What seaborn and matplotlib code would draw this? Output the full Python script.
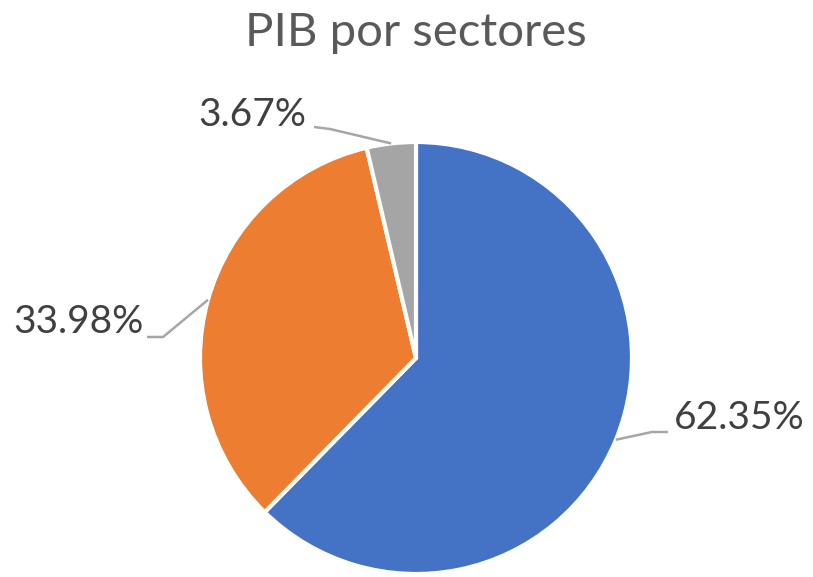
"""
PIB por sectores - gráfico de tarta
"""
import numpy as np
import matplotlib.pyplot as plt
import seaborn as sns

# datos
sectores = ["Servicios", "Industria", "Agricultura"]
porcentajes = [62.35, 33.98, 3.67]
colores = ["#4472C4", "#ED7D31", "#A5A5A5"]
titulo = "PIB por sectores"

sns.set_theme(style="white")
plt.rcParams["font.family"] = ["Lato", "DejaVu Sans"]

W, H = 813, 577
fig = plt.figure(figsize=(W / 100, H / 100), dpi=100)
ax = fig.add_axes([0, 0, 1, 1])

centro = (416, H - 358)
radio = 216

wedges, _ = ax.pie(
    porcentajes,
    colors=colores,
    startangle=90,
    counterclock=False,
    center=centro,
    radius=radio,
    wedgeprops=dict(edgecolor="white", linewidth=3),
)
ax.set_xlim(0, W)
ax.set_ylim(0, H)
ax.set_aspect("equal")
ax.axis("off")

# etiquetas con líneas guía: (codo, fin de línea, pos. texto, alineación)
guias = [
    ((652, 432), (668, 432), (674, 418), "left"),
    ((163, 337), (147, 337), (144, 322), "right"),
    ((330, 129), (314, 127), (306, 115), "right"),
]
color_linea = "#A6A6A6"
for w, p, (codo, fin, txt, ha) in zip(wedges, porcentajes, guias):
    ang = np.deg2rad((w.theta1 + w.theta2) / 2)
    x0 = centro[0] + radio * np.cos(ang)
    y0 = centro[1] + radio * np.sin(ang)
    ax.plot([x0, codo[0], fin[0]], [y0, H - codo[1], H - fin[1]],
            color=color_linea, lw=1.8, solid_capstyle="butt")
    ax.text(txt[0], H - txt[1], f"{p:.2f}%", ha=ha, va="center",
            fontsize=28, color="#404040")

ax.text(W / 2 + 9, H - 33, titulo, ha="center", va="center",
        fontsize=34, color="#595959")

fig.savefig("out.png", dpi=100, facecolor="white")
